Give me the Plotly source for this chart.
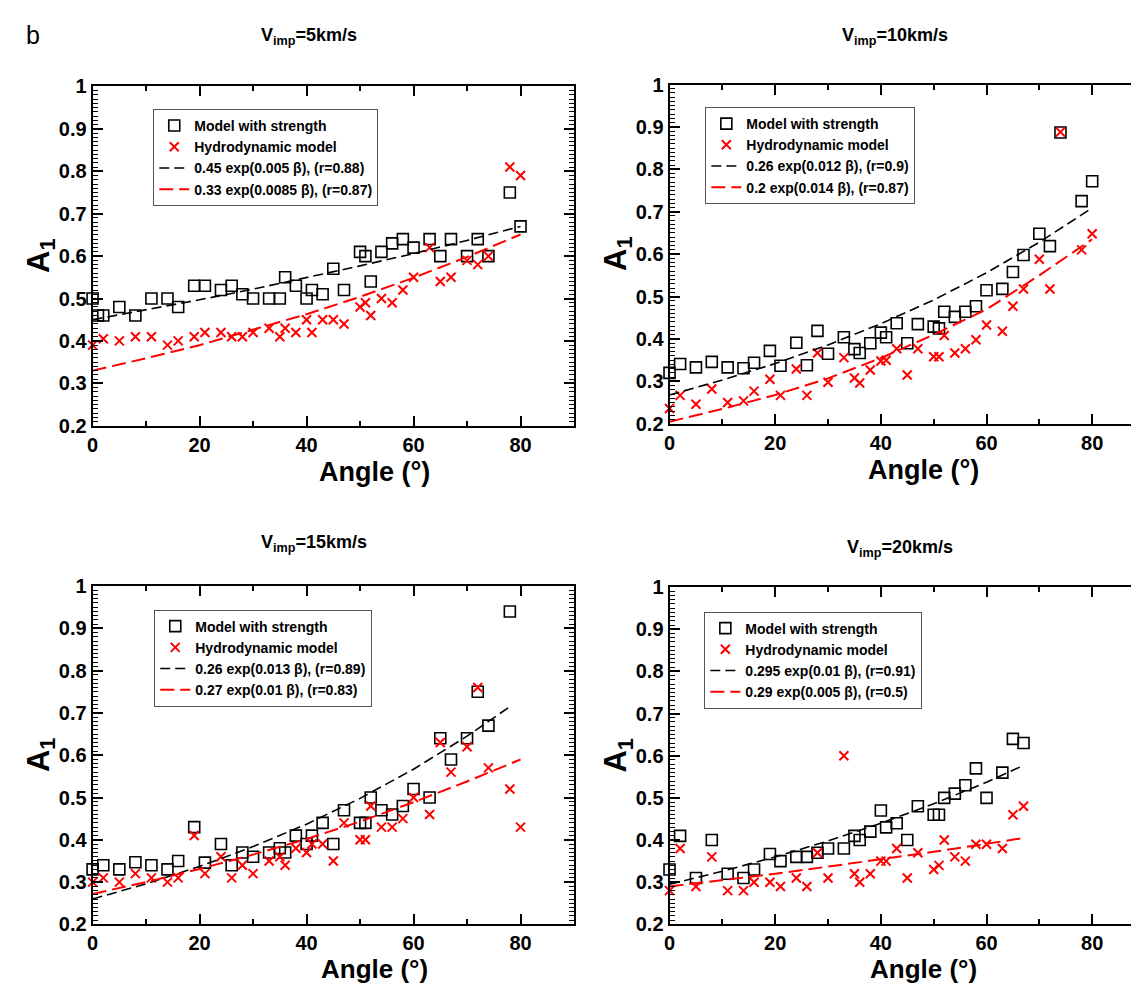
import plotly.graph_objects as go

W, H = 1139, 988

# ---------------- data ----------------
# Panel 1: V_imp = 5 km/s
p1_str_x = [0, 1, 2, 5, 8, 11, 14, 16, 19, 21, 24, 26, 28, 30, 33, 35, 36, 38, 40, 41, 43, 45, 47,
            50, 51, 52, 54, 56, 58, 60, 63, 65, 67, 70, 72, 74, 78, 80]
p1_str_y = [0.50, 0.46, 0.46, 0.48, 0.46, 0.50, 0.50, 0.48, 0.53, 0.53, 0.52, 0.53, 0.51, 0.50, 0.50, 0.50,
            0.55, 0.53, 0.50, 0.52, 0.51, 0.57, 0.52, 0.61, 0.60, 0.54, 0.61, 0.63, 0.64, 0.62, 0.64,
            0.60, 0.64, 0.60, 0.64, 0.60, 0.75, 0.67]
p1_hyd_x = [0, 2, 5, 8, 11, 14, 16, 19, 21, 24, 26, 28, 30, 33, 35, 36, 38, 40, 41, 43, 45, 47,
            50, 51, 52, 54, 56, 58, 60, 63, 65, 67, 70, 72, 74, 78, 80]
p1_hyd_y = [0.39, 0.405, 0.40, 0.41, 0.41, 0.39, 0.40, 0.41, 0.42, 0.42, 0.41, 0.41, 0.42, 0.43, 0.41,
            0.43, 0.42, 0.45, 0.42, 0.45, 0.45, 0.44, 0.48, 0.49, 0.46, 0.50, 0.49, 0.52, 0.55, 0.62,
            0.54, 0.55, 0.59, 0.58, 0.60, 0.81, 0.79]
p1_fit_x = [0, 10, 20, 30, 40, 50, 60, 70, 80]
p1_fit_str = [0.450, 0.473, 0.497, 0.522, 0.549, 0.577, 0.606, 0.637, 0.670]
p1_fit_hyd = [0.330, 0.359, 0.390, 0.426, 0.463, 0.504, 0.549, 0.598, 0.651]

# Panel 2: V_imp = 10 km/s
p2_x = [0, 2, 5, 8, 11, 14, 16, 19, 21, 24, 26, 28, 30, 33, 35, 36, 38, 40, 41, 43, 45, 47,
        50, 51, 52, 54, 56, 58, 60, 63, 65, 67, 70, 72, 74, 78, 80]
p2_str_y = [0.32, 0.341, 0.333, 0.346, 0.333, 0.331, 0.344, 0.372, 0.337, 0.391, 0.338, 0.419, 0.365,
            0.404, 0.376, 0.367, 0.39, 0.415, 0.404, 0.437, 0.39, 0.435, 0.429, 0.425, 0.464, 0.452,
            0.464, 0.477, 0.515, 0.518, 0.558, 0.598, 0.648, 0.619, 0.887, 0.725, 0.772]
p2_hyd_y = [0.236, 0.267, 0.246, 0.282, 0.25, 0.254, 0.277, 0.305, 0.267, 0.329, 0.267, 0.367, 0.298,
            0.356, 0.308, 0.296, 0.327, 0.348, 0.35, 0.377, 0.315, 0.377, 0.358, 0.358, 0.408, 0.367,
            0.377, 0.398, 0.433, 0.418, 0.477, 0.518, 0.588, 0.518, 0.888, 0.61, 0.648]
p2_fit_x = [0, 10, 20, 30, 40, 50, 60, 70, 80]
p2_fit_str = [0.268, 0.303, 0.342, 0.386, 0.436, 0.492, 0.556, 0.628, 0.709]
p2_fit_hyd = [0.205, 0.235, 0.268, 0.307, 0.355, 0.410, 0.470, 0.550, 0.635]

# Panel 3: V_imp = 15 km/s
p3_str_x = [0, 2, 5, 8, 11, 14, 16, 19, 21, 24, 26, 28, 30, 33, 35, 36, 38, 40, 41, 43, 45, 47,
            50, 51, 52, 54, 56, 58, 60, 63, 65, 67, 70, 72, 74, 78]
p3_str_y = [0.33, 0.34, 0.33, 0.347, 0.34, 0.33, 0.35, 0.43, 0.346, 0.39, 0.34, 0.37, 0.36, 0.37, 0.38,
            0.37, 0.41, 0.39, 0.41, 0.44, 0.39, 0.47, 0.44, 0.44, 0.50, 0.47, 0.46, 0.48, 0.52, 0.50,
            0.64, 0.59, 0.64, 0.75, 0.67, 0.94]
p3_hyd_x = [0, 2, 5, 8, 11, 14, 16, 19, 21, 24, 26, 28, 30, 33, 35, 36, 38, 40, 41, 43, 45, 47,
            50, 51, 52, 54, 56, 58, 60, 63, 65, 67, 70, 72, 74, 78, 80]
p3_hyd_y = [0.30, 0.31, 0.30, 0.32, 0.31, 0.30, 0.31, 0.41, 0.32, 0.36, 0.31, 0.34, 0.32, 0.35, 0.36,
            0.34, 0.38, 0.37, 0.39, 0.39, 0.35, 0.44, 0.40, 0.40, 0.48, 0.43, 0.43, 0.45, 0.50, 0.46,
            0.63, 0.56, 0.62, 0.76, 0.57, 0.52, 0.43]
p3_fit_str_x = [0, 10, 20, 30, 40, 50, 60, 70, 78]
p3_fit_str = [0.260, 0.296, 0.337, 0.384, 0.437, 0.498, 0.567, 0.645, 0.715]
p3_fit_hyd_x = [0, 10, 20, 30, 40, 50, 60, 70, 80]
p3_fit_hyd = [0.272, 0.300, 0.331, 0.365, 0.402, 0.443, 0.489, 0.538, 0.590]

# Panel 4: V_imp = 20 km/s
p4_x = [0, 2, 5, 8, 11, 14, 16, 19, 21, 24, 26, 28, 30, 33, 35, 36, 38, 40, 41, 43, 45, 47,
        50, 51, 52, 54, 56, 58, 60, 63, 65, 67]
p4_str_y = [0.33, 0.41, 0.31, 0.40, 0.32, 0.31, 0.33, 0.367, 0.35, 0.36, 0.36, 0.37, 0.38, 0.38, 0.41,
            0.40, 0.42, 0.47, 0.43, 0.44, 0.40, 0.48, 0.46, 0.46, 0.50, 0.51, 0.53, 0.57, 0.50, 0.56,
            0.64, 0.63]
p4_hyd_y = [0.28, 0.38, 0.29, 0.36, 0.28, 0.28, 0.30, 0.30, 0.29, 0.31, 0.29, 0.37, 0.31, 0.60, 0.32,
            0.30, 0.32, 0.35, 0.35, 0.38, 0.31, 0.37, 0.33, 0.34, 0.40, 0.36, 0.35, 0.39, 0.39, 0.38,
            0.46, 0.48]
p4_fit_x = [0, 10, 20, 30, 40, 50, 60, 67]
p4_fit_str = [0.295, 0.326, 0.360, 0.398, 0.440, 0.486, 0.537, 0.577]
p4_fit_hyd = [0.290, 0.305, 0.320, 0.337, 0.354, 0.372, 0.391, 0.405]

titles = ["V<sub>imp</sub>=5km/s", "V<sub>imp</sub>=10km/s",
          "V<sub>imp</sub>=15km/s", "V<sub>imp</sub>=20km/s"]
fit_labels = [
    ("0.45 exp(0.005 β), (r=0.88)", "0.33 exp(0.0085 β), (r=0.87)"),
    ("0.26 exp(0.012 β), (r=0.9)", "0.2 exp(0.014 β), (r=0.87)"),
    ("0.26 exp(0.013 β), (r=0.89)", "0.27 exp(0.01 β), (r=0.83)"),
    ("0.295 exp(0.01 β), (r=0.91)", "0.29 exp(0.005 β), (r=0.5)"),
]
x_tickvals = [0, 20, 40, 60, 80]
y_tickvals = [0.2, 0.3, 0.4, 0.5, 0.6, 0.7, 0.8, 0.9, 1.0]
x_range = [0, 90]
y_range = [0.2, 1.0]
x_minor_step = 10
y_minor_step = 0.01

panels = [
    dict(sx=p1_str_x, sy=p1_str_y, hx=p1_hyd_x, hy=p1_hyd_y,
         fsx=p1_fit_x, fsy=p1_fit_str, fhx=p1_fit_x, fhy=p1_fit_hyd),
    dict(sx=p2_x, sy=p2_str_y, hx=p2_x, hy=p2_hyd_y,
         fsx=p2_fit_x, fsy=p2_fit_str, fhx=p2_fit_x, fhy=p2_fit_hyd),
    dict(sx=p3_str_x, sy=p3_str_y, hx=p3_hyd_x, hy=p3_hyd_y,
         fsx=p3_fit_str_x, fsy=p3_fit_str, fhx=p3_fit_hyd_x, fhy=p3_fit_hyd),
    dict(sx=p4_x, sy=p4_str_y, hx=p4_x, hy=p4_hyd_y,
         fsx=p4_fit_x, fsy=p4_fit_str, fhx=p4_fit_x, fhy=p4_fit_hyd),
]

# ---------------- layout geometry (pixels) ----------------
boxes = [  # left, right, top, bottom
    (79, 563, 69, 416),
    (659, 1137, 67, 414),
    (79, 563, 580, 926),
    (659, 1137, 581, 926),
]
legend_pos = [(140, 92), (695, 90), (141, 604), (694, 606)]
title_pos = [(297, 18), (886, 18), (302, 536), (891, 542)]
angle_frac = [0.585, 0.535, 0.585, 0.535]

FONT = "Liberation Sans, Arial, sans-serif"
NARROW = "Liberation Sans Narrow, Arial Narrow, Liberation Sans, sans-serif"

fig = go.Figure()
layout = dict(width=W, height=H, margin=dict(l=0, r=0, t=0, b=0),
              paper_bgcolor="white", plot_bgcolor="white", showlegend=True)
annotations = []

for i, p in enumerate(panels):
    n = i + 1
    xa = "x" if n == 1 else f"x{n}"
    ya = "y" if n == 1 else f"y{n}"
    xm, ym = f"x{n + 4}", f"y{n + 4}"          # overlay axes carrying the minor ticks
    lg = "legend" if n == 1 else f"legend{n}"

    fig.add_trace(go.Scatter(x=p["sx"], y=p["sy"], mode="markers", name="Model with strength",
                             xaxis=xa, yaxis=ya, legend=lg, cliponaxis=False,
                             marker=dict(symbol="square-open", size=11, color="black",
                                         line=dict(width=1.6, color="black"))))
    fig.add_trace(go.Scatter(x=p["hx"], y=p["hy"], mode="markers", name="Hydrodynamic model",
                             xaxis=xa, yaxis=ya, legend=lg, cliponaxis=False,
                             marker=dict(symbol="x-thin-open", size=9, color="red",
                                         line=dict(width=2, color="red"))))
    fig.add_trace(go.Scatter(x=p["fsx"], y=p["fsy"], mode="lines", name=fit_labels[i][0],
                             xaxis=xa, yaxis=ya, legend=lg,
                             line=dict(color="black", width=1.6, dash="10px,5px")))
    fig.add_trace(go.Scatter(x=p["fhx"], y=p["fhy"], mode="lines", name=fit_labels[i][1],
                             xaxis=xa, yaxis=ya, legend=lg,
                             line=dict(color="red", width=2, dash="14px,6px")))
    # empty trace so that the minor-tick overlay axes get drawn
    fig.add_trace(go.Scatter(x=[None], y=[None], mode="markers", xaxis=xm, yaxis=ym,
                             showlegend=False, hoverinfo="skip"))

    l, r, t, b = boxes[i]
    xdom = [l / W, min(r / W, 1.0)]
    ydom = [1 - b / H, 1 - t / H]
    tickfont = dict(family=FONT, size=20, color="black", weight="bold")
    xaxis = dict(domain=xdom, range=x_range, anchor=ya,
                 tickmode="linear", tick0=x_tickvals[0], dtick=x_tickvals[1] - x_tickvals[0],
                 ticks="inside", ticklen=10, tickwidth=1.5, tickcolor="black",
                 showline=True, linecolor="black", linewidth=2, mirror="allticks",
                 showgrid=False, zeroline=False, tickfont=tickfont)
    yaxis = dict(domain=ydom, range=y_range, anchor=xa,
                 tickmode="linear", tick0=y_tickvals[0], dtick=y_tickvals[1] - y_tickvals[0],
                 ticks="inside", ticklen=10, tickwidth=1.5, tickcolor="black",
                 showline=True, linecolor="black", linewidth=2, mirror="allticks",
                 showgrid=False, zeroline=False, tickfont=tickfont)
    xminor = dict(domain=xdom, range=x_range, anchor=ya, overlaying=xa,
                  tickmode="linear", tick0=x_range[0], dtick=x_minor_step,
                  ticks="inside", ticklen=5, tickwidth=1.5, tickcolor="black",
                  showticklabels=False, showline=False,
                  mirror="allticks", showgrid=False, zeroline=False)
    yminor = dict(domain=ydom, range=y_range, anchor=xa, overlaying=ya,
                  tickmode="linear", tick0=y_range[0], dtick=y_minor_step,
                  ticks="inside", ticklen=5, tickwidth=1.2, tickcolor="black",
                  showticklabels=False, showline=False,
                  mirror="allticks", showgrid=False, zeroline=False)
    layout["xaxis" if n == 1 else f"xaxis{n}"] = xaxis
    layout["yaxis" if n == 1 else f"yaxis{n}"] = yaxis
    layout[f"xaxis{n + 4}"] = xminor
    layout[f"yaxis{n + 4}"] = yminor

    lx, ly = legend_pos[i]
    layout[lg] = dict(x=lx / W, y=1 - ly / H, xanchor="left", yanchor="top",
                      bgcolor="white", bordercolor="#555555", borderwidth=1,
                      font=dict(family=FONT, size=14, color="black", weight="bold"),
                      itemwidth=30, tracegroupgap=0)

    tx, ty = title_pos[i]
    annotations.append(dict(text=titles[i], x=tx / W, y=1 - ty / H, xref="paper", yref="paper",
                            xanchor="center", yanchor="middle", showarrow=False,
                            font=dict(family=NARROW, size=18, color="black", weight="bold")))
    # axis titles
    if n <= 2:
        annotations.append(dict(text="Angle (°)", x=(l + (r - l) * angle_frac[i]) / W,
                                y=1 - (b + 47) / H, xref="paper", yref="paper",
                                xanchor="center", yanchor="middle", showarrow=False,
                                font=dict(family=FONT, size=27, color="black", weight="bold")))
    else:
        annotations.append(dict(text="Angle (°)", x=(l + (r - l) * angle_frac[i]) / W,
                                y=0, xref="paper", yref="paper",
                                xanchor="center", yanchor="bottom", showarrow=False,
                                borderpad=0,
                                font=dict(family=FONT, size=26, color="black", weight="bold")))
    annotations.append(dict(text="A<sub>1</sub>", x=(l - 52) / W, y=1 - ((t + b) / 2) / H,
                            xref="paper", yref="paper", textangle=-90,
                            xanchor="center", yanchor="middle", showarrow=False,
                            font=dict(family=FONT, size=31, color="black", weight="bold")))

annotations.append(dict(text="b", x=10 / W, y=1 - 16 / H, xref="paper", yref="paper",
                        xanchor="left", yanchor="middle", showarrow=False,
                        font=dict(family=FONT, size=25, color="black")))
layout["annotations"] = annotations
fig.update_layout(**layout)
fig.write_html("out.html")
